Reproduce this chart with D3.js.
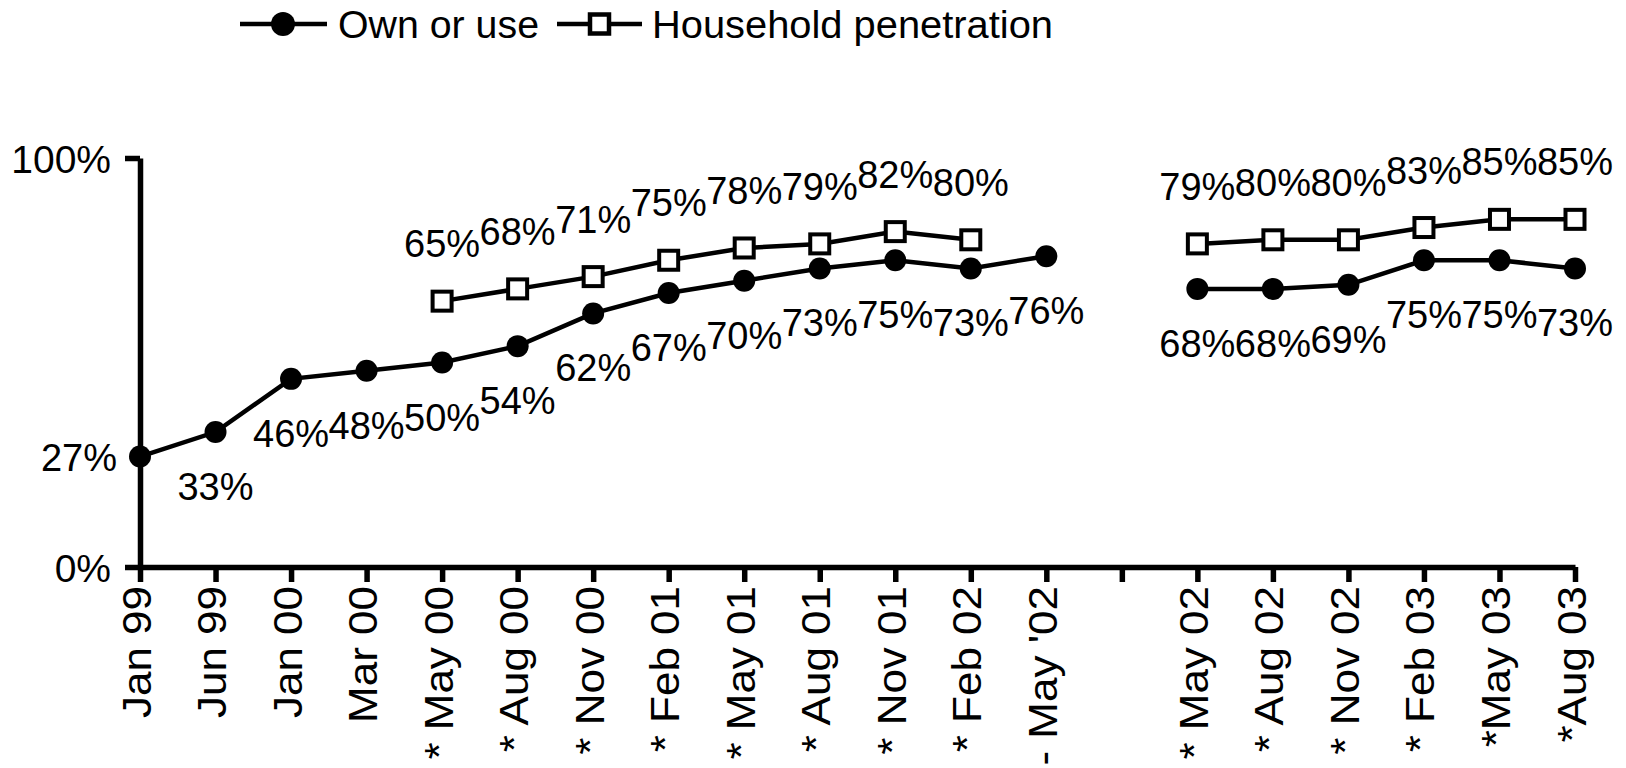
<!DOCTYPE html>
<html>
<head>
<meta charset="utf-8">
<script src="https://cdn.jsdelivr.net/npm/d3@7"></script>
<style>
  body { margin: 0; background: #fff; }
  text { font-family: "Liberation Sans", Arial, sans-serif; fill: #000; }
</style>
</head>
<body>
<svg id="chart" width="1626" height="768"></svg>
<script>
// Survey waves (one empty slot separates the two survey series)
const categories = ["Jan 99", "Jun 99", "Jan 00", "Mar 00", "* May 00", "* Aug 00", "* Nov 00",
  "* Feb 01", "* May 01", "* Aug 01", "* Nov 01", "* Feb 02", "- May '02", "",
  "* May 02", "* Aug 02", "* Nov 02", "* Feb 03", "*May 03", "*Aug 03"];

// Percent values; null = not measured in that wave
const ownOrUse = [27, 33, 46, 48, 50, 54, 62, 67, 70, 73, 75, 73, 76, null,
  68, 68, 69, 75, 75, 73];
const householdPenetration = [null, null, null, null, 65, 68, 71, 75, 78, 79, 82, 80, null, null,
  79, 80, 80, 83, 85, 85];

const yTickValues = [0, 100];
const seriesNames = ["Own or use", "Household penetration"];

const svg = d3.select("#chart");

const x = d3.scalePoint().domain(d3.range(categories.length)).range([140, 1575]);
const y = d3.scaleLinear().domain([0, 100]).range([567, 158]);
const pct = v => v + "%";

// ---- axes ----
const xAxis = svg.append("g")
  .attr("transform", `translate(0,${y(0)})`)
  .call(d3.axisBottom(x).tickSize(15).tickSizeOuter(0).tickFormat(i => categories[i]));
xAxis.selectAll("path, line").attr("stroke", "#000").attr("stroke-width", 5.5);
xAxis.selectAll("text")
  .attr("x", 0)
  .attr("y", 0)
  .attr("dy", "0")
  .attr("transform", "translate(10,19) rotate(-90) scale(1.1,1)")
  .attr("text-anchor", "end")
  .attr("font-size", 40)
  .attr("font-family", null)
  .attr("fill", "#000");

const yAxis = svg.append("g")
  .attr("transform", `translate(${x(0)},0)`)
  .call(d3.axisLeft(y).tickValues(yTickValues).tickSize(15).tickSizeOuter(0).tickFormat(pct));
yAxis.selectAll("path, line").attr("stroke", "#000").attr("stroke-width", 5.5);
yAxis.selectAll("text")
  .attr("x", -29)
  .attr("dy", "0.36em")
  .attr("font-size", 39)
  .attr("font-family", null)
  .attr("fill", "#000");

// ---- series ----
const line = d3.line()
  .defined(d => d != null)
  .x((d, i) => x(i))
  .y(d => y(d));

function drawLine(values) {
  svg.append("path")
    .datum(values)
    .attr("fill", "none")
    .attr("stroke", "#000")
    .attr("stroke-width", 4.5)
    .attr("d", line);
}
drawLine(ownOrUse);
drawLine(householdPenetration);

const ownPts = ownOrUse.map((v, i) => ({ v, i })).filter(d => d.v != null);
const hhPts = householdPenetration.map((v, i) => ({ v, i })).filter(d => d.v != null);

svg.append("g").selectAll("circle").data(ownPts).join("circle")
  .attr("cx", d => x(d.i)).attr("cy", d => y(d.v)).attr("r", 11).attr("fill", "#000");

const sq = 19;
svg.append("g").selectAll("rect").data(hhPts).join("rect")
  .attr("x", d => x(d.i) - sq / 2).attr("y", d => y(d.v) - sq / 2)
  .attr("width", sq).attr("height", sq)
  .attr("fill", "#fff").attr("stroke", "#000").attr("stroke-width", 4);

// ---- data labels: own/use below (first point to the left), household above ----
svg.append("g").selectAll("text").data(ownPts).join("text")
  .attr("font-size", 38)
  .attr("text-anchor", d => d.i === 0 ? "end" : "middle")
  .attr("x", d => d.i === 0 ? x(d.i) - 23 : x(d.i))
  .attr("y", d => d.i === 0 ? y(d.v) + 14 : y(d.v) + 68)
  .text(d => pct(d.v));

svg.append("g").selectAll("text").data(hhPts).join("text")
  .attr("font-size", 38)
  .attr("text-anchor", "middle")
  .attr("x", d => x(d.i))
  .attr("y", d => y(d.v) - 44)
  .text(d => pct(d.v));

// ---- legend ----
const legend = svg.append("g");
const lg1 = legend.append("g");
lg1.append("line").attr("x1", 240).attr("x2", 327).attr("y1", 24).attr("y2", 24)
  .attr("stroke", "#000").attr("stroke-width", 4.5);
lg1.append("circle").attr("cx", 283).attr("cy", 24).attr("r", 12).attr("fill", "#000");
lg1.append("text").attr("x", 338).attr("y", 38).attr("font-size", 38)
  .attr("textLength", 201).attr("lengthAdjust", "spacingAndGlyphs").text(seriesNames[0]);

const lg2 = legend.append("g");
lg2.append("line").attr("x1", 557).attr("x2", 642).attr("y1", 24).attr("y2", 24)
  .attr("stroke", "#000").attr("stroke-width", 4.5);
lg2.append("rect").attr("x", 599.5 - 9.5).attr("y", 24 - 9.5).attr("width", 19).attr("height", 19)
  .attr("fill", "#fff").attr("stroke", "#000").attr("stroke-width", 4.5);
lg2.append("text").attr("x", 652).attr("y", 38).attr("font-size", 38)
  .attr("textLength", 401).attr("lengthAdjust", "spacingAndGlyphs").text(seriesNames[1]);
</script>
</body>
</html>
